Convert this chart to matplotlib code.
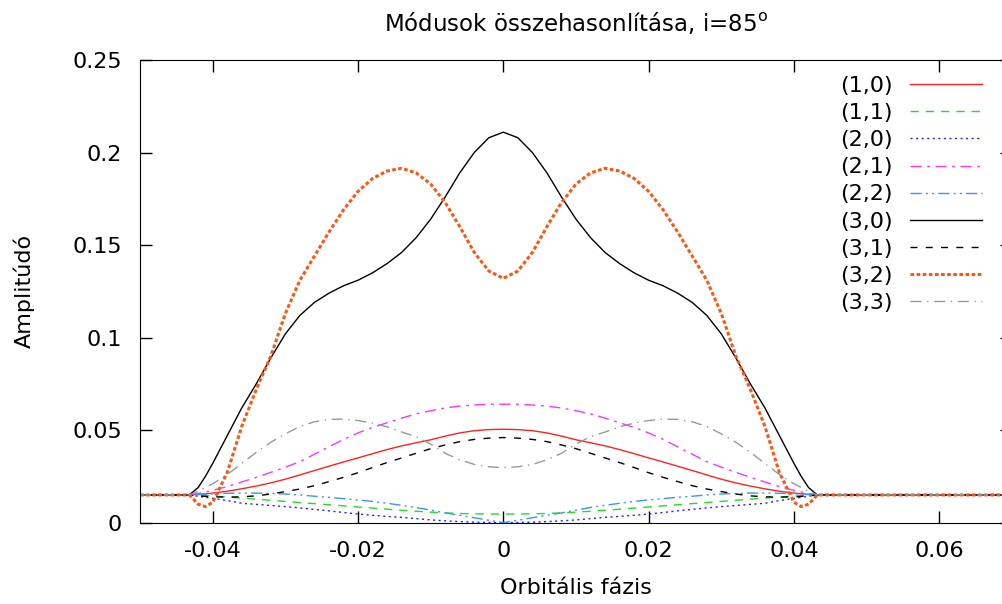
import matplotlib
matplotlib.use("Agg")
import matplotlib.pyplot as plt

plt.rcParams['font.family'] = ['DejaVu Sans']
plt.rcParams['axes.unicode_minus'] = False

# orbital phase grid (shared by every mode)
phase = [-0.05, -0.0432, -0.042, -0.041, -0.040, -0.038, -0.036, -0.034, -0.032, -0.030,
         -0.028, -0.026, -0.024, -0.022, -0.020, -0.018, -0.016, -0.014, -0.012, -0.010,
         -0.008, -0.006, -0.004, -0.002, 0.0,
         0.002, 0.004, 0.006, 0.008, 0.010, 0.012, 0.014, 0.016, 0.018, 0.020,
         0.022, 0.024, 0.026, 0.028, 0.030, 0.032, 0.034, 0.036, 0.038, 0.040,
         0.041, 0.042, 0.0432, 0.07]

m10 = [0.015, 0.015, 0.0153, 0.0156, 0.016, 0.017, 0.0183, 0.0198, 0.0215, 0.0235,
       0.0258, 0.0282, 0.0305, 0.0328, 0.035, 0.0373, 0.0395, 0.0415, 0.0432, 0.0448,
       0.0468, 0.0485, 0.0497, 0.0503, 0.0505,
       0.0503, 0.0497, 0.0485, 0.0468, 0.0448, 0.0432, 0.0415, 0.0395, 0.0373, 0.035,
       0.0328, 0.0305, 0.0282, 0.0258, 0.0235, 0.0215, 0.0198, 0.0183, 0.017, 0.016,
       0.0156, 0.0153, 0.015, 0.015]

m11 = [0.015, 0.015, 0.0148, 0.0146, 0.0144, 0.0139, 0.0133, 0.0127, 0.0121, 0.0115,
       0.0109, 0.0103, 0.0097, 0.0091, 0.0085, 0.0079, 0.0073, 0.0067, 0.0062, 0.0057,
       0.0053, 0.005, 0.0048, 0.0047, 0.0047,
       0.0047, 0.0048, 0.005, 0.0053, 0.0057, 0.0062, 0.0067, 0.0073, 0.0079, 0.0085,
       0.0091, 0.0097, 0.0103, 0.0109, 0.0115, 0.0121, 0.0127, 0.0133, 0.0139, 0.0144,
       0.0146, 0.0148, 0.015, 0.015]

m20 = [0.015, 0.015, 0.0143, 0.0137, 0.0131, 0.012, 0.0105, 0.0099, 0.0093, 0.0087,
       0.008, 0.0072, 0.0064, 0.0055, 0.0047, 0.004, 0.0034, 0.0029, 0.0022, 0.0015,
       0.001, 0.0006, 0.0003, 0.0001, 0.0,
       0.0001, 0.0003, 0.0006, 0.001, 0.0015, 0.0022, 0.0029, 0.0034, 0.004, 0.0047,
       0.0055, 0.0064, 0.0072, 0.008, 0.0087, 0.0093, 0.0099, 0.0105, 0.012, 0.0131,
       0.0137, 0.0143, 0.015, 0.015]

m21 = [0.015, 0.015, 0.0158, 0.0166, 0.0175, 0.0195, 0.022, 0.0245, 0.0272, 0.030,
       0.033, 0.037, 0.041, 0.045, 0.0485, 0.0515, 0.054, 0.0565, 0.0588, 0.0605,
       0.062, 0.063, 0.0636, 0.064, 0.064,
       0.064, 0.0636, 0.063, 0.062, 0.0605, 0.0588, 0.0565, 0.054, 0.0515, 0.0485,
       0.045, 0.041, 0.037, 0.033, 0.030, 0.0272, 0.0245, 0.022, 0.0195, 0.0175,
       0.0166, 0.0158, 0.015, 0.015]

m22 = [0.015, 0.015, 0.0152, 0.0154, 0.0156, 0.0159, 0.016, 0.016, 0.0158, 0.0155,
       0.015, 0.0143, 0.0137, 0.013, 0.0123, 0.0115, 0.0105, 0.0094, 0.0082, 0.0068,
       0.0053, 0.004, 0.0027, 0.0013, 0.0,
       0.0013, 0.0027, 0.004, 0.0053, 0.0068, 0.0082, 0.0094, 0.0105, 0.0115, 0.0123,
       0.013, 0.0137, 0.0143, 0.015, 0.0155, 0.0158, 0.016, 0.016, 0.0159, 0.0156,
       0.0154, 0.0152, 0.015, 0.015]

m30 = [0.015, 0.015, 0.019, 0.025, 0.032, 0.047, 0.062, 0.075, 0.089, 0.102,
       0.112, 0.119, 0.124, 0.128, 0.131, 0.135, 0.140, 0.146, 0.154, 0.164,
       0.176, 0.189, 0.200, 0.208, 0.211,
       0.208, 0.200, 0.189, 0.176, 0.164, 0.154, 0.146, 0.140, 0.135, 0.131,
       0.128, 0.124, 0.119, 0.112, 0.102, 0.089, 0.075, 0.062, 0.047, 0.032,
       0.025, 0.019, 0.015, 0.015]

m31 = [0.015, 0.015, 0.0145, 0.0142, 0.014, 0.0138, 0.014, 0.0145, 0.0155, 0.0168,
       0.0182, 0.020, 0.0222, 0.0245, 0.027, 0.0298, 0.0325, 0.035, 0.0375, 0.040,
       0.042, 0.0438, 0.045, 0.0457, 0.046,
       0.0457, 0.045, 0.0438, 0.042, 0.040, 0.0375, 0.035, 0.0325, 0.0298, 0.027,
       0.0245, 0.0222, 0.020, 0.0182, 0.0168, 0.0155, 0.0145, 0.014, 0.0138, 0.014,
       0.0142, 0.0145, 0.015, 0.015]

m32 = [0.015, 0.015, 0.010, 0.0087, 0.011, 0.027, 0.052, 0.072, 0.090, 0.113,
       0.131, 0.144, 0.157, 0.169, 0.179, 0.186, 0.190, 0.1915, 0.189, 0.183,
       0.173, 0.160, 0.146, 0.136, 0.132,
       0.136, 0.146, 0.160, 0.173, 0.183, 0.189, 0.1915, 0.190, 0.186, 0.179,
       0.169, 0.157, 0.144, 0.131, 0.113, 0.090, 0.072, 0.052, 0.027, 0.011,
       0.0087, 0.010, 0.015, 0.015]

m33 = [0.015, 0.015, 0.017, 0.019, 0.021, 0.026, 0.032, 0.038, 0.0435, 0.048,
       0.052, 0.0545, 0.0558, 0.056, 0.0552, 0.0538, 0.0518, 0.049, 0.0465, 0.0425,
       0.0375, 0.034, 0.0315, 0.0302, 0.0298,
       0.0302, 0.0315, 0.034, 0.0375, 0.0425, 0.0465, 0.049, 0.0518, 0.0538, 0.0552,
       0.056, 0.0558, 0.0545, 0.052, 0.048, 0.0435, 0.038, 0.032, 0.026, 0.021,
       0.019, 0.017, 0.015, 0.015]

labels = ['(1,0)', '(1,1)', '(2,0)', '(2,1)', '(2,2)', '(3,0)', '(3,1)', '(3,2)', '(3,3)']
series = [m10, m11, m20, m21, m22, m30, m31, m32, m33]
colors = ['#ff2222', '#22dd22', '#2222ff', '#ff33ff', '#3a96f0', '#000000', '#000000', '#ff5511', '#999999']
styles = ['-', (0, (6, 5)), (0, (1.5, 2.5)), (0, (8, 4, 2, 4)), (0, (8, 3, 1.5, 3, 1.5, 3)),
          '-', (0, (5, 6)), (0, (1.2, 0.8)), (0, (8, 4, 1, 4))]
widths = [1, 1, 1, 1, 1, 1, 1, 2.2, 1]

fig = plt.figure(figsize=(10.03, 6.04), dpi=100)
ax = fig.add_axes([140 / 1003, 81.3 / 604, (1012 - 140) / 1003, (522.7 - 60) / 604])

for y, lab, c, ls, lw in zip(series, labels, colors, styles, widths):
    ax.plot(phase, y, color=c, linestyle=ls, linewidth=lw, label=lab)

ax.set_xlim(-0.05, 0.07)
ax.set_ylim(0, 0.25)
ax.set_xticks([-0.04, -0.02, 0, 0.02, 0.04, 0.06])
ax.set_xticklabels(['-0.04', '-0.02', '0', '0.02', '0.04', '0.06'])
ax.set_yticks([0, 0.05, 0.1, 0.15, 0.2, 0.25])
ax.set_yticklabels(['0', '0.05', '0.1', '0.15', '0.2', '0.25'])
ax.tick_params(direction='in', length=8.5, width=1, top=True, right=True,
               labelsize=16, pad=13)

ax.set_title('Módusok összehasonlítása, i=85$^\\mathrm{o}$', fontsize=16.5, pad=21)
ax.set_xlabel('Orbitális fázis', fontsize=16, labelpad=12.5)
ax.set_ylabel('Amplitúdó', fontsize=16, labelpad=27)

ax.legend(loc='upper right', bbox_to_anchor=(982 / 1003, 1 - 76 / 604),
          bbox_transform=fig.transFigure, frameon=False, markerfirst=False,
          fontsize=16, handlelength=3.25, handletextpad=0.75, labelspacing=0.32,
          borderpad=0, borderaxespad=0)

fig.savefig('out.png', dpi=100)
